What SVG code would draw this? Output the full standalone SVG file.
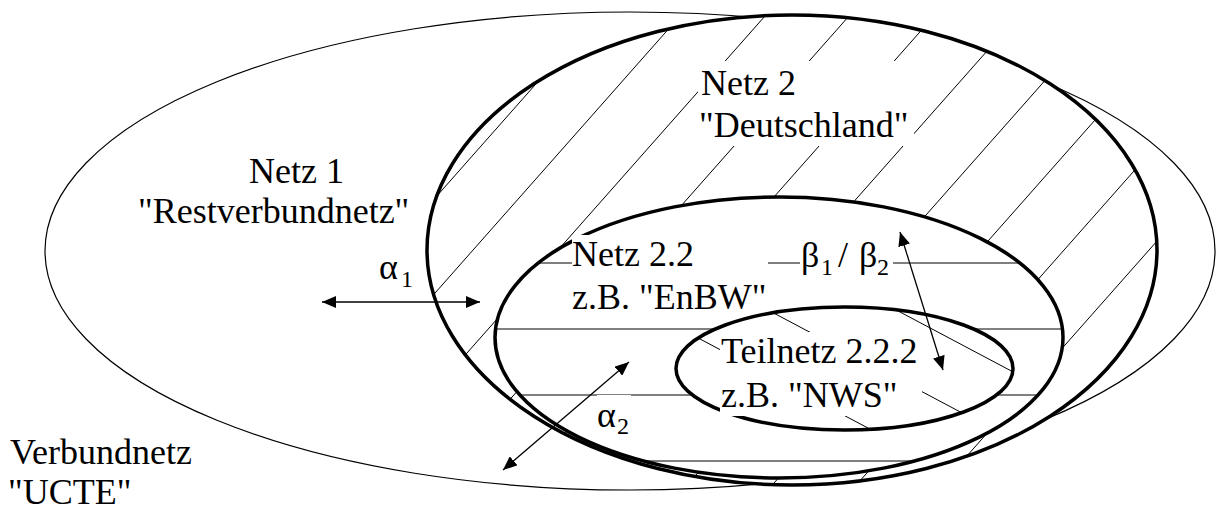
<svg xmlns="http://www.w3.org/2000/svg" width="1216" height="506" viewBox="0 0 1216 506">
<style>
.thick{fill:none;stroke:#000;stroke-width:3.5}
.thin{fill:none;stroke:#000;stroke-width:1.2}
.hatch{stroke:#000;stroke-width:1;fill:none}
.box{fill:#fff;stroke:none}
.arr{stroke:#000;stroke-width:1.3;fill:none}
</style>
<defs>
<marker id="ah" markerUnits="userSpaceOnUse" markerWidth="15" markerHeight="12" refX="14" refY="6" orient="auto-start-reverse">
<path d="M0,0 L14,6 L0,12 Z" fill="#000"/>
</marker>
<clipPath id="c2"><ellipse cx="792" cy="250" rx="365" ry="235"/></clipPath>
<clipPath id="c22"><ellipse cx="779" cy="337.5" rx="284" ry="140.5"/></clipPath>
<clipPath id="c222"><ellipse cx="844.5" cy="368.5" rx="168.5" ry="61.5"/></clipPath>
</defs>
<rect width="1216" height="506" fill="#fff"/>

<g font-family="Liberation Serif, Times New Roman, serif" font-size="36" fill="#000">

<g id="verbundnetz">
<ellipse class="thin" cx="630" cy="251" rx="585" ry="239"/>
<text><tspan x="10" y="464">Verbundnetz</tspan><tspan x="8" y="504">"UCTE"</tspan></text>
</g>

<g id="netz1">
<text><tspan x="249" y="183">Netz 1</tspan><tspan x="138" y="223">"Restverbundnetz"</tspan></text>
</g>

<g id="netz2">
<ellipse cx="792" cy="250" rx="365" ry="235" fill="#fff"/>
<g clip-path="url(#c2)" class="hatch">
<line x1="619" y1="-10" x2="168" y2="500"/>
<line x1="703" y1="-10" x2="252" y2="500"/>
<line x1="788" y1="-10" x2="337" y2="500"/>
<line x1="872" y1="-10" x2="421" y2="500"/>
<line x1="957" y1="-10" x2="506" y2="500"/>
<line x1="1041" y1="-10" x2="590" y2="500"/>
<line x1="1125" y1="-10" x2="674" y2="500"/>
<line x1="1210" y1="-10" x2="759" y2="500"/>
<line x1="1294" y1="-10" x2="843" y2="500"/>
<line x1="1379" y1="-10" x2="928" y2="500"/>
</g>
<ellipse class="thick" cx="792" cy="250" rx="365" ry="235"/>
<rect class="box" x="698" y="61" width="216" height="85"/>
<text><tspan x="701" y="95">Netz 2</tspan><tspan x="699" y="137">"Deutschland"</tspan></text>
</g>

<g id="netz22">
<ellipse cx="779" cy="337.5" rx="284" ry="140.5" fill="#fff"/>
<g clip-path="url(#c22)" class="hatch">
<line x1="480" y1="263" x2="1080" y2="263"/>
<line x1="480" y1="329" x2="1080" y2="329"/>
<line x1="480" y1="395" x2="1080" y2="395"/>
<line x1="480" y1="461" x2="1080" y2="461"/>
</g>
<ellipse class="thick" cx="779" cy="337.5" rx="284" ry="140.5"/>
<rect class="box" x="572" y="235" width="196" height="82"/>
<text><tspan x="572" y="266">Netz 2.2</tspan><tspan x="572" y="309">z.B. "EnBW"</tspan></text>
</g>

<g id="teilnetz222">
<ellipse cx="844.5" cy="368.5" rx="168.5" ry="61.5" fill="#fff"/>
<g clip-path="url(#c222)" class="hatch">
<line x1="660" y1="184.8" x2="1030" y2="380.9"/>
<line x1="660" y1="252.8" x2="1030" y2="448.9"/>
<line x1="660" y1="317.8" x2="1030" y2="513.9"/>
</g>
<ellipse class="thick" cx="844.5" cy="368.5" rx="168.5" ry="61.5"/>
<rect class="box" x="720" y="332" width="202" height="84"/>
<text><tspan x="721" y="363">Teilnetz 2.2.2</tspan><tspan x="721" y="407">z.B. "NWS"</tspan></text>
</g>

<g id="labels">
<rect class="box" x="800" y="237" width="93" height="40"/>
<text><tspan x="801" y="267">β</tspan><tspan font-size="24" x="821" y="275">1</tspan><tspan x="838" y="267">/</tspan><tspan x="859" y="267">β</tspan><tspan font-size="24" x="877" y="275">2</tspan></text>
<rect class="box" x="377" y="250" width="36" height="40"/>
<text><tspan x="379" y="279">α</tspan><tspan font-size="24" x="401" y="287">1</tspan></text>
<rect class="box" x="597" y="395" width="34" height="41"/>
<text><tspan x="597" y="427">α</tspan><tspan font-size="24" x="617" y="434">2</tspan></text>
</g>

</g>

<g id="connectors">
<line class="arr" x1="322" y1="302" x2="480" y2="302" marker-start="url(#ah)" marker-end="url(#ah)"/>
<line class="arr" x1="503" y1="470" x2="629" y2="362" marker-start="url(#ah)" marker-end="url(#ah)"/>
<line class="arr" x1="900" y1="232" x2="943" y2="370" marker-start="url(#ah)" marker-end="url(#ah)"/>
</g>
</svg>
